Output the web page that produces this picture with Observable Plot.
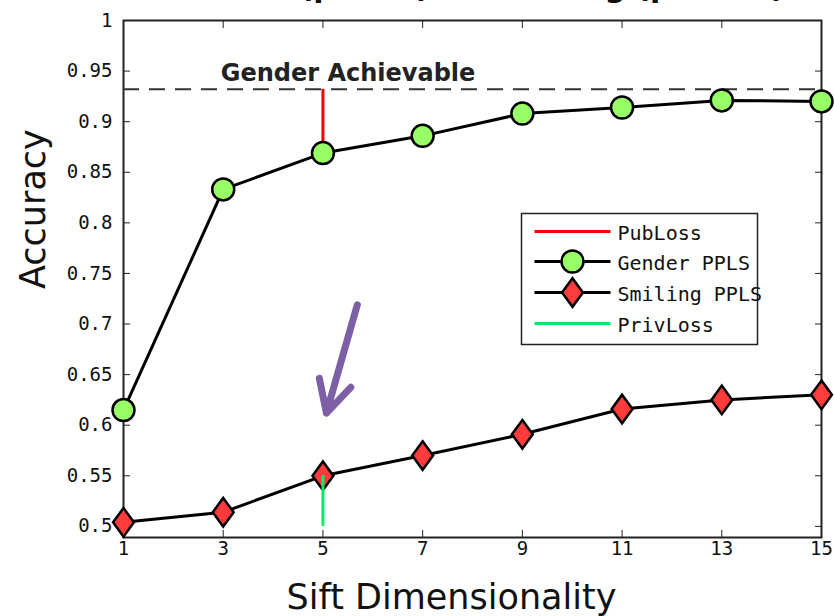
<!DOCTYPE html>
<html>
<head>
<meta charset="utf-8">
<script src="https://cdn.jsdelivr.net/npm/d3@7"></script>
<script src="https://cdn.jsdelivr.net/npm/@observablehq/plot@0.6"></script>
<style>
  body { margin: 0; background: #fff; }
  #chart { width: 834px; height: 616px; overflow: hidden; }
</style>
</head>
<body>
<div id="chart"></div>
<script>
// Sift dimensionality sweep: accuracy of the public (gender) and private (smiling) tasks
const dims = [1, 3, 5, 7, 9, 11, 13, 15];
const genderPPLS = [0.615, 0.833, 0.869, 0.886, 0.908, 0.914, 0.921, 0.920];
const smilingPPLS = [0.504, 0.514, 0.550, 0.570, 0.591, 0.616, 0.625, 0.630];

// Reference levels
const genderAchievable = 0.932;
const chanceLevel = 0.5;
const lossDim = 5;

// Axis ticks
const xTicks = [1, 3, 5, 7, 9, 11, 13, 15];
const yTicks = [0.5, 0.55, 0.6, 0.65, 0.7, 0.75, 0.8, 0.85, 0.9, 0.95, 1];

// Text
const titleText = ["Gender (public) vs. Smiling (private)"];
const xLabel = ["Sift Dimensionality"];
const yLabel = ["Accuracy"];
const achievableNote = [{label: "Gender Achievable", dim: 2.95, acc: 0.9405}];
const legendLabels = ["PubLoss", "Gender PPLS", "Smiling PPLS", "PrivLoss"];

// Call-out arrow pointing at the privacy loss
const callout = [{x1: 5.69, y1: 0.719, x2: 5.07, y2: 0.612}];

const gender = dims.map((d, i) => ({dim: d, acc: genderPPLS[i]}));
const smiling = dims.map((d, i) => ({dim: d, acc: smilingPPLS[i]}));
const at = (series) => series[dims.indexOf(lossDim)];
const pubLoss = [{dim: lossDim, lo: at(genderPPLS), hi: genderAchievable}];
const privLoss = [{dim: lossDim, lo: chanceLevel, hi: at(smilingPPLS)}];

// Marker styles
const GREEN = "#99ff66", RED = "#ff3b3b", LOSS_RED = "#ff0000", LOSS_GREEN = "#00ee6a";
const tallDiamond = {
  draw(ctx, size) {
    const r = Math.sqrt(size / Math.PI);
    const h = r * 1.3, w = r * 0.95;
    ctx.moveTo(0, -h); ctx.lineTo(w, 0); ctx.lineTo(0, h); ctx.lineTo(-w, 0); ctx.closePath();
  }
};
const swatchLine = {
  draw(ctx) { ctx.moveTo(-38, 0); ctx.lineTo(38, 0); }
};

const tickFont = {fontFamily: "DejaVu Sans Mono", fontSize: 19};
const legendFont = {fontFamily: "DejaVu Sans Mono", fontSize: 20};

// Legend rows: vertical offsets from the top-left of the frame
const legendRows = [211, 241, 272, 303];
const legendMarks = [
  Plot.frame({fill: "#fff", stroke: "#222", strokeWidth: 1.5,
    insetLeft: 398, insetRight: 64, insetTop: 193, insetBottom: 193}),
  Plot.dot([0], {frameAnchor: "top-left", dx: 449, dy: legendRows[0], symbol: swatchLine, stroke: LOSS_RED, strokeWidth: 3, fill: "none"}),
  Plot.dot([0], {frameAnchor: "top-left", dx: 449, dy: legendRows[1], symbol: swatchLine, stroke: "#000", strokeWidth: 3, fill: "none"}),
  Plot.dot([0], {frameAnchor: "top-left", dx: 449, dy: legendRows[1], r: 11, fill: GREEN, stroke: "#000", strokeWidth: 2.5}),
  Plot.dot([0], {frameAnchor: "top-left", dx: 449, dy: legendRows[2], symbol: swatchLine, stroke: "#000", strokeWidth: 3, fill: "none"}),
  Plot.dot([0], {frameAnchor: "top-left", dx: 449, dy: legendRows[2], r: 11, symbol: tallDiamond, fill: RED, stroke: "#000", strokeWidth: 2.5}),
  Plot.dot([0], {frameAnchor: "top-left", dx: 449, dy: legendRows[3], symbol: swatchLine, stroke: LOSS_GREEN, strokeWidth: 3, fill: "none"}),
  ...legendLabels.map((label, i) => Plot.text([label], {
    frameAnchor: "top-left", dx: 494, dy: legendRows[i] + 2, text: d => d,
    textAnchor: "start", lineAnchor: "middle", fill: "#111", ...legendFont
  }))
];

const chart = Plot.plot({
  width: 834,
  height: 616,
  marginLeft: 123,
  marginRight: 13,
  marginTop: 20,
  marginBottom: 79,
  style: {background: "#fff", color: "#111", overflow: "visible"},
  x: {domain: [1, 15], label: null},
  y: {domain: [0.489, 1], label: null},
  marks: [
    Plot.frame({stroke: "#222", strokeWidth: 2}),
    Plot.axisX({anchor: "bottom", ticks: xTicks, tickSize: -7, tickPadding: 11, label: null, stroke: "#222", tickFormat: d => String(d), ...tickFont}),
    Plot.axisX({anchor: "top", ticks: xTicks, tickSize: -7, label: null, stroke: "#222", tickFormat: () => ""}),
    Plot.axisY({anchor: "left", ticks: yTicks, tickSize: -7, tickPadding: 18, label: null, stroke: "#222", tickFormat: d => String(d), ...tickFont}),
    Plot.axisY({anchor: "right", ticks: yTicks, tickSize: -7, label: null, stroke: "#222", tickFormat: () => ""}),

    Plot.ruleY([genderAchievable], {stroke: "#333", strokeWidth: 2, strokeDasharray: "16,10"}),
    Plot.ruleX(pubLoss, {x: "dim", y1: "lo", y2: "hi", stroke: LOSS_RED, strokeWidth: 3}),

    Plot.line(gender, {x: "dim", y: "acc", stroke: "#000", strokeWidth: 3}),
    Plot.line(smiling, {x: "dim", y: "acc", stroke: "#000", strokeWidth: 3}),
    Plot.dot(gender, {x: "dim", y: "acc", r: 11, fill: GREEN, stroke: "#000", strokeWidth: 2.5}),
    Plot.dot(smiling, {x: "dim", y: "acc", r: 11, symbol: tallDiamond, fill: RED, stroke: "#000", strokeWidth: 2.5}),

    Plot.ruleX(privLoss, {x: "dim", y1: "lo", y2: "hi", stroke: LOSS_GREEN, strokeWidth: 3}),

    Plot.text(achievableNote, {x: "dim", y: "acc", text: "label", textAnchor: "start", lineAnchor: "bottom",
      fontFamily: "DejaVu Sans", fontWeight: "bold", fontSize: 24, fill: "#222"}),

    Plot.arrow(callout, {x1: "x1", y1: "y1", x2: "x2", y2: "y2", stroke: "#7d5fa6", strokeWidth: 7,
      headLength: 7.6, headAngle: 55, strokeLinecap: "round", strokeLinejoin: "round"}),

    ...legendMarks,

    Plot.text(titleText, {frameAnchor: "top", dx: 3, dy: -24, text: d => d, lineAnchor: "bottom",
      fontFamily: "DejaVu Sans", fontWeight: "bold", fontSize: 30, fill: "#111"}),
    Plot.text(yLabel, {frameAnchor: "left", dx: -90, dy: 10, rotate: -90, text: d => d, lineAnchor: "middle",
      fontFamily: "DejaVu Sans", fontSize: 35, fill: "#111"}),
    Plot.text(xLabel, {frameAnchor: "bottom", dx: -21, dy: 71, text: d => d, lineAnchor: "bottom",
      fontFamily: "DejaVu Sans", fontSize: 35, fill: "#111"})
  ]
});

document.getElementById("chart").append(chart);
</script>
</body>
</html>
